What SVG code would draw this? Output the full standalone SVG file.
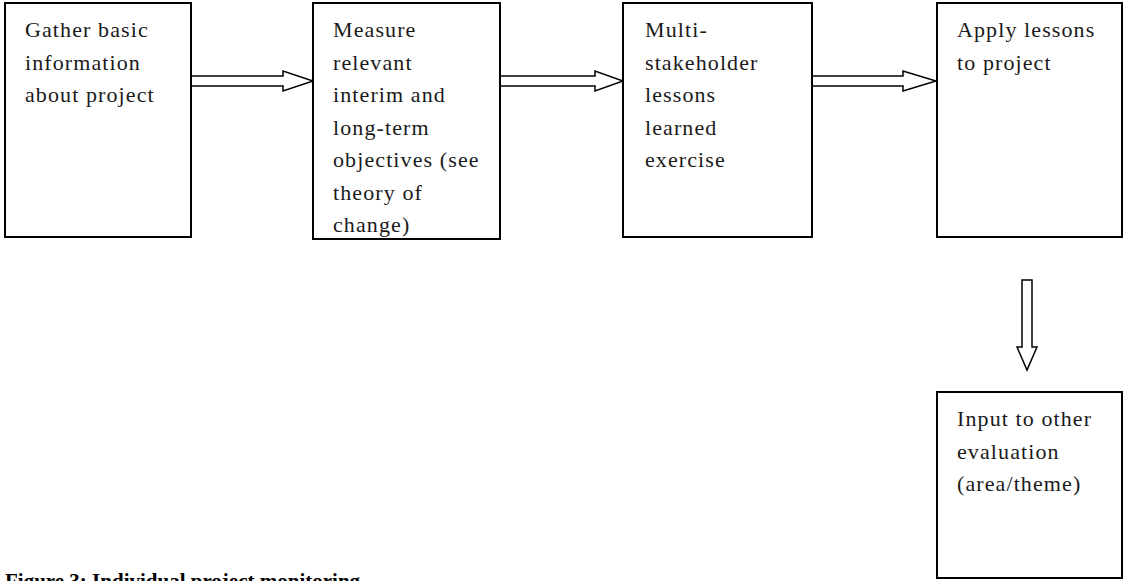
<svg xmlns="http://www.w3.org/2000/svg" width="1125" height="581" viewBox="0 0 1125 581">
  <style>
    .box { fill: #fff; stroke: #000; stroke-width: 2; }
    .label { font-family: "Liberation Serif", "Times New Roman", serif; font-size: 22px; fill: #1a1a1a; letter-spacing: 1.1px; }
    .arrow { fill: #fff; stroke: #000; stroke-width: 1.5; stroke-linejoin: miter; }
    .caption { font-family: "Liberation Serif", "Times New Roman", serif; font-size: 21px; font-weight: bold; fill: #000; }
  </style>
  <defs>
    <clipPath id="clip-measure">
      <rect x="313" y="3" width="187" height="235"/>
    </clipPath>
  </defs>
  <rect width="1125" height="581" fill="#fff"/>

  <g id="connectors">
    <!-- hollow block arrows between the steps -->
    <path class="arrow" d="M191,76 H283 V71 L313,81 L283,91 V86 H191 Z"/>
    <path class="arrow" d="M500,76 H595 V71 L623,81 L595,91 V86 H500 Z"/>
    <path class="arrow" d="M812,76 H903 V71 L936,81 L903,91 V86 H812 Z"/>
    <path class="arrow" d="M1022,280 H1032 V347 H1037 L1027,370 L1017,347 H1022 Z"/>
  </g>

  <g id="node-gather">
    <rect class="box" x="5" y="3" width="186" height="234"/>
    <text class="label" x="25" y="37">Gather basic</text>
    <text class="label" x="25" y="69.5">information</text>
    <text class="label" x="25" y="102">about project</text>
  </g>

  <g id="node-measure">
    <rect class="box" x="313" y="3" width="187" height="236"/>
    <g clip-path="url(#clip-measure)">
      <text class="label" x="333" y="37">Measure</text>
      <text class="label" x="333" y="69.5">relevant</text>
      <text class="label" x="333" y="102">interim and</text>
      <text class="label" x="333" y="134.5">long-term</text>
      <text class="label" x="333" y="167">objectives (see</text>
      <text class="label" x="333" y="199.5">theory of</text>
      <text class="label" x="333" y="232">change)</text>
    </g>
  </g>

  <g id="node-lessons">
    <rect class="box" x="623" y="3" width="189" height="234"/>
    <text class="label" x="645" y="37">Multi-</text>
    <text class="label" x="645" y="69.5">stakeholder</text>
    <text class="label" x="645" y="102">lessons</text>
    <text class="label" x="645" y="134.5">learned</text>
    <text class="label" x="645" y="167">exercise</text>
  </g>

  <g id="node-apply">
    <rect class="box" x="937" y="3" width="185" height="234"/>
    <text class="label" x="957" y="37">Apply lessons</text>
    <text class="label" x="957" y="69.5">to project</text>
  </g>

  <g id="node-input">
    <rect class="box" x="937" y="392" width="185" height="186"/>
    <text class="label" x="957" y="426">Input to other</text>
    <text class="label" x="957" y="458.5">evaluation</text>
    <text class="label" x="957" y="491">(area/theme)</text>
  </g>

  <text class="caption" x="5" y="588">Figure 3: Individual project monitoring</text>
</svg>
